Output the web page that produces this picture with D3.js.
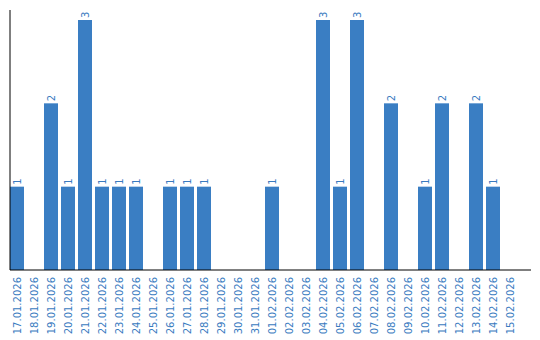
<!DOCTYPE html>
<html>
<head>
<meta charset="utf-8">
<script src="https://cdn.jsdelivr.net/npm/d3@7"></script>
<style>
  body { margin: 0; background: #fff; }
  text { font-family: "DejaVu Sans", Verdana, sans-serif; }
</style>
</head>
<body>
<svg></svg>
<script>
const dates = [
	"17.01.2026", "18.01.2026", "19.01.2026", "20.01.2026", "21.01.2026",
	"22.01.2026", "23.01.2026", "24.01.2026", "25.01.2026", "26.01.2026",
	"27.01.2026", "28.01.2026", "29.01.2026", "30.01.2026", "31.01.2026",
	"01.02.2026", "02.02.2026", "03.02.2026", "04.02.2026", "05.02.2026",
	"06.02.2026", "07.02.2026", "08.02.2026", "09.02.2026", "10.02.2026",
	"11.02.2026", "12.02.2026", "13.02.2026", "14.02.2026", "15.02.2026"
];
const counts = [1, 0, 2, 1, 3, 1, 1, 1, 0, 1, 1, 1, 0, 0, 0, 1, 0, 0, 3, 1, 3, 0, 2, 0, 1, 2, 0, 2, 1, 0];

const size = { w: 540, h: 340 };
const margin = { t: 10, l: 10, b: 70 };
const barColor = "#3a7ec3";
const textColor = "#3a7bbf";

const svg = d3.select("svg").attr("width", size.w).attr("height", size.h);

const data = dates.map((d, i) => ({ date: d, value: counts[i] }));

// 17px per day, bar 14px wide, left aligned in its slot
let scaleX = d3
	.scaleBand()
	.domain(dates)
	.range([margin.l, margin.l + 17 * dates.length])
	.padding(0);
const barW = 14;

const baseY = size.h - margin.b;
let scaleY = d3.scaleLinear().domain([0, 3]).range([baseY, 20]);

// bars
svg.append("g")
	.selectAll("rect")
	.data(data.filter((d) => d.value > 0))
	.join("rect")
	.attr("x", (d) => scaleX(d.date))
	.attr("y", (d) => scaleY(d.value))
	.attr("width", barW)
	.attr("height", (d) => baseY - scaleY(d.value))
	.attr("fill", barColor);

// value labels
svg.append("g")
	.selectAll("text")
	.data(data.filter((d) => d.value > 0))
	.join("text")
	.attr("transform", (d) => `translate(${scaleX(d.date) + barW / 2 + 3.5},${scaleY(d.value) - 2}) rotate(-90)`)
	.attr("font-size", 10)
	.attr("fill", textColor)
	.text((d) => d.value);

// axes
svg.append("line")
	.attr("x1", margin.l).attr("x2", margin.l)
	.attr("y1", margin.t).attr("y2", baseY)
	.attr("stroke", "#000").attr("stroke-width", 1);
svg.append("line")
	.attr("x1", margin.l).attr("x2", 531)
	.attr("y1", baseY).attr("y2", baseY)
	.attr("stroke", "#000").attr("stroke-width", 1);

// tick labels
svg.append("g")
	.selectAll("text")
	.data(dates)
	.join("text")
	.attr("transform", (d) => `translate(${scaleX(d) + barW / 2 + 3.5},${baseY + 7}) rotate(-90)`)
	.attr("text-anchor", "end")
	.attr("font-size", 10)
	.attr("fill", textColor)
	.text((d) => d);
</script>
</body>
</html>
